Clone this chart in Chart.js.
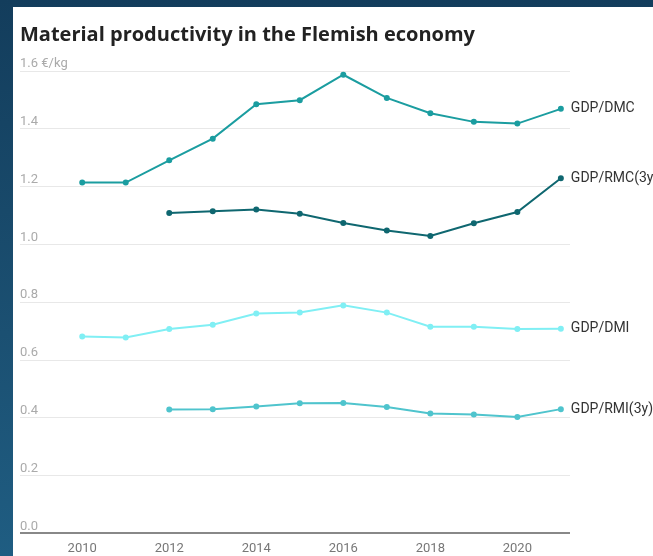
<!DOCTYPE html>
<html>
<head>
<meta charset="utf-8">
<script src="https://cdn.jsdelivr.net/npm/chart.js@4"></script>
<style>
  body { margin: 0; width: 653px; height: 556px; overflow: hidden;
         background: linear-gradient(180deg, #133d5c 0%, #1b5072 60%, #1f5d82 100%); }
  #card { position: absolute; left: 13px; top: 7px; width: 640px; height: 549px; background: #fff; overflow: hidden; }
  #chart { display: block; }
</style>
</head>
<body>
<div id="card"><canvas id="chart" width="640" height="558"></canvas></div>
<script>
const years = [2010, 2011, 2012, 2013, 2014, 2015, 2016, 2017, 2018, 2019, 2020, 2021];
const gdpDmc = [1.214, 1.214, 1.291, 1.366, 1.485, 1.499, 1.587, 1.507, 1.454, 1.424, 1.418, 1.469];
const gdpRmc = [null, null, 1.109, 1.115, 1.121, 1.106, 1.074, 1.048, 1.029, 1.073, 1.112, 1.229];
const gdpDmi = [0.681, 0.678, 0.707, 0.722, 0.761, 0.764, 0.789, 0.764, 0.715, 0.715, 0.707, 0.708];
const gdpRmi = [null, null, 0.429, 0.430, 0.439, 0.450, 0.451, 0.437, 0.415, 0.411, 0.403, 0.430];
const yearTicks = [2010, 2012, 2014, 2016, 2018, 2020];

const toPoints = vals => years.map((yr, i) => ({ x: yr, y: vals[i] }));

function series(label, vals, color) {
  return {
    label,
    data: toPoints(vals),
    borderColor: color,
    backgroundColor: color,
    borderWidth: 2,
    pointRadius: 2,
    pointHoverRadius: 2,
    tension: 0
  };
}

// names next to the last point of every line
const endLabels = {
  id: 'endLabels',
  afterDatasetsDraw(chart) {
    const ctx = chart.ctx;
    ctx.save();
    ctx.font = '14px Roboto';
    ctx.fillStyle = '#333';
    ctx.textBaseline = 'middle';
    ctx.textAlign = 'left';
    chart.data.datasets.forEach((ds, i) => {
      const pts = chart.getDatasetMeta(i).data;
      const last = pts[pts.length - 1];
      ctx.fillText(ds.label, last.x + 10, last.y);
    });
    ctx.restore();
  }
};

new Chart(document.getElementById('chart'), {
  type: 'line',
  data: {
    datasets: [
      series('GDP/DMC', gdpDmc, '#1b9da0'),
      series('GDP/RMC(3y)', gdpRmc, '#0f6770'),
      series('GDP/DMI', gdpDmi, '#80eff4'),
      series('GDP/RMI(3y)', gdpRmi, '#4fc4cd')
    ]
  },
  options: {
    responsive: false,
    animation: false,
    layout: { padding: { left: 7, right: 83, top: 4, bottom: 0 } },
    plugins: {
      legend: { display: false },
      tooltip: { enabled: false },
      title: {
        display: true,
        text: 'Material productivity in the Flemish economy',
        align: 'start',
        color: '#222',
        font: { family: 'Open Sans', size: 20, weight: 'bold' },
        padding: { top: 12, bottom: 24 }
      }
    },
    scales: {
      x: {
        type: 'linear',
        min: 2008.57,
        max: 2021.21,
        afterBuildTicks: axis => { axis.ticks = yearTicks.map(v => ({ value: v })); },
        grid: { display: false, drawTicks: false },
        border: { display: false },
        ticks: {
          color: '#777',
          font: { family: 'Roboto', size: 13 },
          padding: 8,
          maxRotation: 0,
          callback: v => String(v)
        }
      },
      y: {
        min: 0,
        max: 1.6,
        grid: {
          drawTicks: false,
          color: c => c.tick && c.tick.value === 0 ? '#888' : '#e8e8e8',
          lineWidth: c => c.tick && c.tick.value === 0 ? 2 : 1
        },
        border: { display: false },
        ticks: {
          stepSize: 0.2,
          mirror: true,
          padding: 0,
          labelOffset: -7,
          color: '#aaa',
          font: { family: 'Roboto', size: 13 },
          callback: v => v.toFixed(1) + (Math.abs(v - 1.6) < 1e-9 ? ' €/kg' : '')
        }
      }
    }
  },
  plugins: [endLabels]
});
</script>
</body>
</html>
